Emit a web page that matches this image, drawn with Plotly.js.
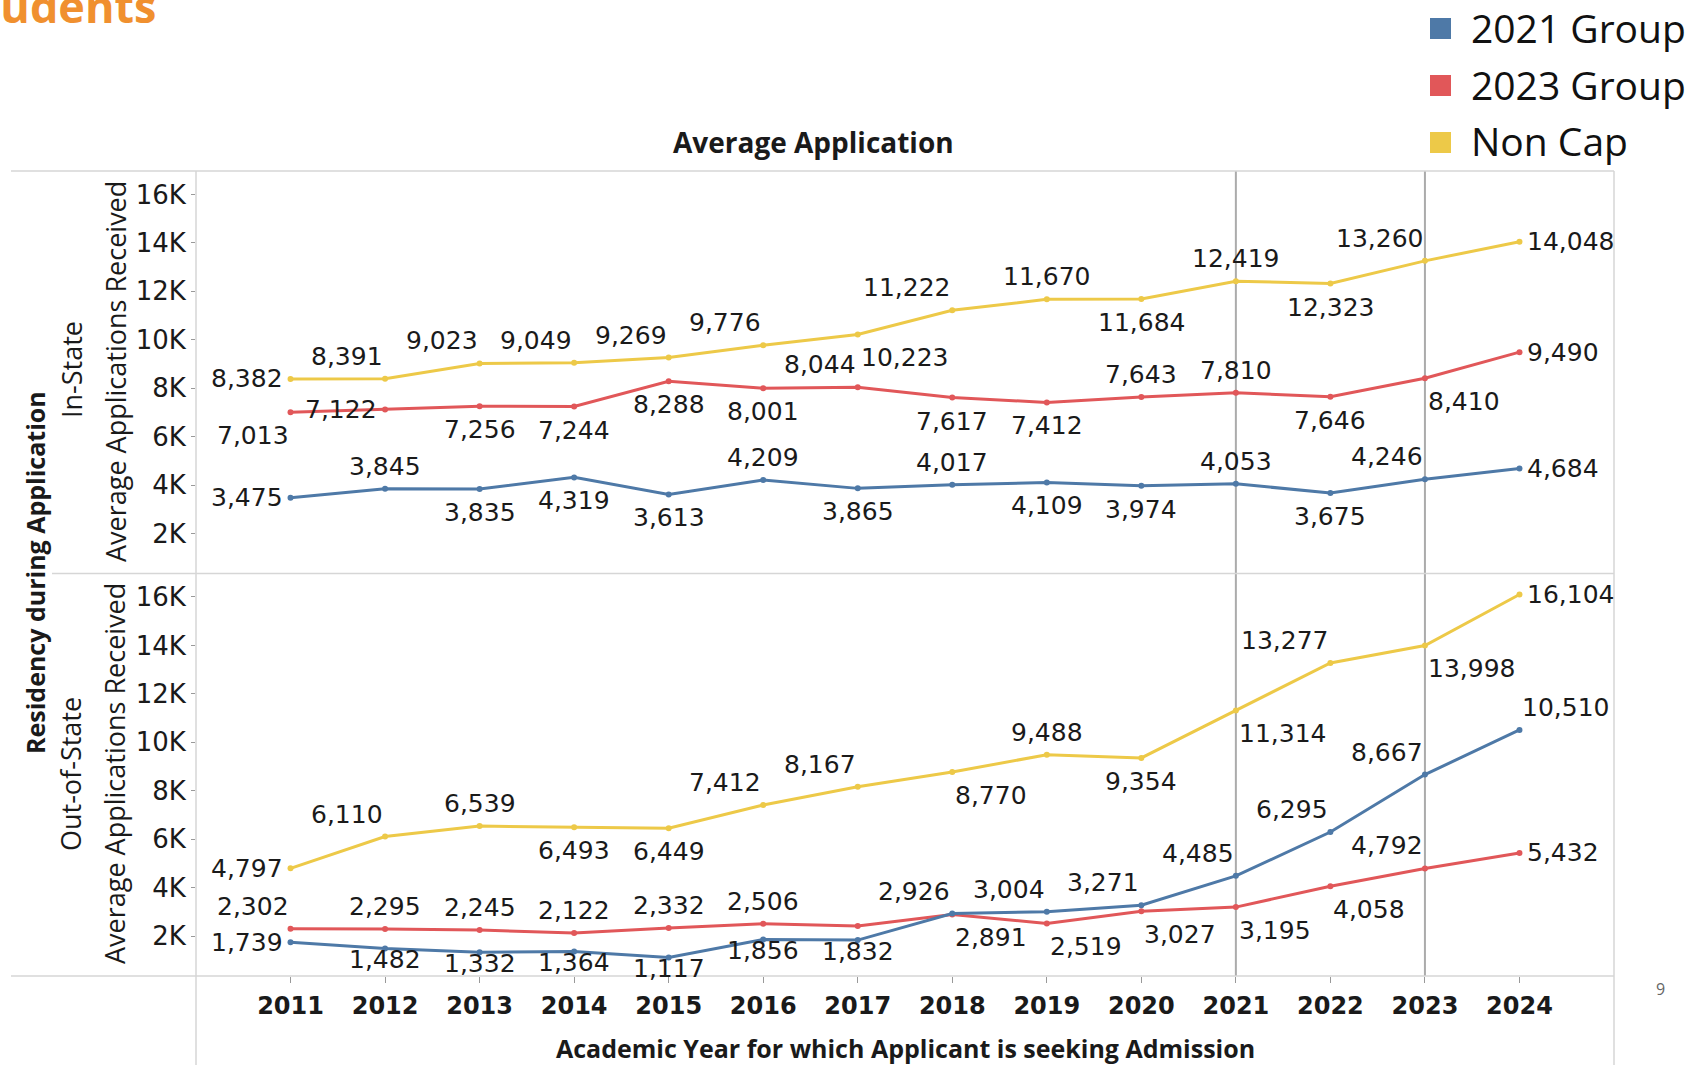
<!DOCTYPE html>
<html lang="en">
<head>
    <meta charset="UTF-8">
    <title>Average Application</title>
    <script src="https://cdn.plot.ly/plotly-3.0.0.min.js" charset="utf-8"></script>
    <style>
        body { margin: 0; background: #fff; }
        #plot { width: 1695px; height: 1065px; }
    </style>
</head>
<body>
<div id="plot"></div>

<script>
    // Data
    const years = [2011, 2012, 2013, 2014, 2015, 2016, 2017, 2018, 2019, 2020, 2021, 2022, 2023, 2024];

    const inState2021 = [3475, 3845, 3835, 4319, 3613, 4209, 3865, 4017, 4109, 3974, 4053, 3675, 4246, 4684];
    const inState2023 = [7013, 7122, 7256, 7244, 8288, 8001, 8044, 7617, 7412, 7643, 7810, 7646, 8410, 9490];
    const inStateNonCap = [8382, 8391, 9023, 9049, 9269, 9776, 10223, 11222, 11670, 11684, 12419, 12323, 13260, 14048];

    const outState2021 = [1739, 1482, 1332, 1364, 1117, 1856, 1832, 2926, 3004, 3271, 4485, 6295, 8667, 10510];
    const outState2023 = [2302, 2295, 2245, 2122, 2332, 2506, 2410, 2891, 2519, 3027, 3195, 4058, 4792, 5432];
    const outStateNonCap = [4797, 6110, 6539, 6493, 6449, 7412, 8167, 8770, 9488, 9354, 11314, 13277, 13998, 16104];

    // years whose label is hidden in the original (overlapping)
    const outState2023Hidden = [2017];

    const groupNames = ['2021 Group', '2023 Group', 'Non Cap'];
    const groupColors = ['#4E79A7', '#E15759', '#EDC948'];

    const yTickVals = [2000, 4000, 6000, 8000, 10000, 12000, 14000, 16000];
    const yTickText = ['2K', '4K', '6K', '8K', '10K', '12K', '14K', '16K'];

    // label placement per point (Tableau style)
    const posInNonCap = ['middle left', 'top left', 'top left', 'top left', 'top left', 'top left', 'bottom right',
        'top left', 'top center', 'bottom center', 'top center', 'bottom center', 'top left', 'middle right'];
    const posIn2023 = ['bottom left', 'middle left', 'bottom center', 'bottom center', 'bottom center', 'bottom center', 'top left',
        'bottom center', 'bottom center', 'top center', 'top center', 'bottom center', 'bottom right', 'middle right'];
    const posIn2021 = ['middle left', 'top center', 'bottom center', 'bottom center', 'bottom center', 'top center', 'bottom center',
        'top center', 'bottom center', 'bottom center', 'top center', 'bottom center', 'top left', 'middle right'];
    const posOutNonCap = ['middle left', 'top left', 'top center', 'bottom center', 'bottom center', 'top left', 'top left',
        'bottom right', 'top center', 'bottom center', 'bottom right', 'top left', 'bottom right', 'middle right'];
    const posOut2023 = ['top left', 'top center', 'top center', 'top center', 'top center', 'top center', 'top center',
        'bottom right', 'bottom right', 'bottom right', 'bottom right', 'bottom right', 'top left', 'middle right'];
    const posOut2021 = ['middle left', 'bottom center', 'bottom center', 'bottom center', 'bottom center', 'bottom center', 'bottom center',
        'top left', 'top left', 'top left', 'top left', 'top left', 'top left', 'top right'];

    // Geometry of the plot area in pixels
    const W = 1695, H = 1065;
    const L = 196, R = 1614, T = 171, B = 976;
    const px = x => (x - L) / (R - L);
    const py = y => (B - y) / (B - T);

    const fmt = v => v.toLocaleString('en-US');
    const labelFont = { family: 'DejaVu Sans', size: 25, color: '#1a1a1a' };

    function lineTrace(values, idx, xa, ya) {
        return {
            x: years, y: values, xaxis: xa, yaxis: ya,
            mode: 'lines+markers',
            line: { color: groupColors[idx], width: 3 },
            marker: { color: groupColors[idx], size: 6 },
            cliponaxis: false, showlegend: false, hoverinfo: 'skip'
        };
    }

    // value labels as annotations so the offset can be set per direction
    function valueLabels(values, positions, xa, ya, hidden, pinned) {
        const out = [];
        values.forEach((v, i) => {
            if (hidden && hidden.includes(years[i])) return;
            const [vert, horiz] = positions[i].split(' ');
            const a = {
                x: years[i], y: v, xref: xa, yref: ya,
                text: fmt(v), showarrow: false, font: labelFont,
                xanchor: horiz === 'left' ? 'right' : horiz === 'right' ? 'left' : 'center',
                yanchor: vert === 'top' ? 'bottom' : vert === 'bottom' ? 'top' : 'middle',
                xshift: 0, yshift: 0
            };
            if (vert === 'middle') a.xshift = horiz === 'left' ? -6 : 6;
            else if (horiz === 'right') a.xshift = 1;
            if (vert === 'top') a.yshift = 6;
            if (vert === 'bottom') {
                if (pinned) { a.yanchor = 'middle'; a.yshift = -11; }
                else a.yshift = -7;
            }
            out.push(a);
        });
        return out;
    }

    const traces = [
        lineTrace(inStateNonCap, 2, 'x', 'y'),
        lineTrace(inState2023, 1, 'x', 'y'),
        lineTrace(inState2021, 0, 'x', 'y'),
        lineTrace(outStateNonCap, 2, 'x2', 'y2'),
        lineTrace(outState2023, 1, 'x2', 'y2'),
        lineTrace(outState2021, 0, 'x2', 'y2')
    ];

    const yAxisBase = {
        range: [350, 16970],
        tickvals: yTickVals,
        ticktext: yTickText,
        ticks: 'outside',
        ticklen: 4,
        tickcolor: '#999',
        tickfont: { family: 'DejaVu Sans', size: 26, color: '#1a1a1a' },
        showgrid: false,
        zeroline: false,
        showline: false,
        fixedrange: true
    };

    const frameColor = '#d6d6d6';
    const shapes = [
        // frame lines
        { type: 'line', xref: 'paper', yref: 'paper', x0: px(11), x1: px(R), y0: py(T), y1: py(T), line: { color: frameColor, width: 1.5 } },
        { type: 'line', xref: 'paper', yref: 'paper', x0: px(52), x1: px(R), y0: 0.5, y1: 0.5, line: { color: frameColor, width: 1.5 } },
        { type: 'line', xref: 'paper', yref: 'paper', x0: px(11), x1: px(R), y0: 0, y1: 0, line: { color: frameColor, width: 1.5 } },
        { type: 'line', xref: 'paper', yref: 'paper', x0: 0, x1: 0, y0: py(T), y1: py(H), line: { color: frameColor, width: 1.5 } },
        { type: 'line', xref: 'paper', yref: 'paper', x0: 1, x1: 1, y0: py(T), y1: py(H), line: { color: frameColor, width: 1.5 } },
        // reference lines
        { type: 'line', xref: 'x2', yref: 'paper', x0: 2021, x1: 2021, y0: 0, y1: 1, layer: 'below', line: { color: '#ababab', width: 2 } },
        { type: 'line', xref: 'x2', yref: 'paper', x0: 2023, x1: 2023, y0: 0, y1: 1, layer: 'below', line: { color: '#ababab', width: 2 } }
    ];

    const annotations = [
        { text: 'Average Application', x: px(813), y: py(142), font: { family: 'Open Sans', size: 28, color: '#1a1a1a', weight: 'bold' } },
        { text: 'Academic Year for which Applicant is seeking Admission', x: px(905), y: py(1048), font: { family: 'Open Sans', size: 25, color: '#1a1a1a', weight: 'bold' } },
        { text: 'Residency during Application', x: px(35), y: py(573), textangle: -90, font: { family: 'Open Sans', size: 25, color: '#1a1a1a', weight: 'bold' } },
        { text: 'In-State', x: px(71), y: py(370), textangle: -90, font: { family: 'Open Sans', size: 27, color: '#1a1a1a' } },
        { text: 'Average Applications Received', x: px(115), y: py(372), textangle: -90, font: { family: 'Open Sans', size: 27, color: '#1a1a1a' } },
        { text: 'Out-of-State', x: px(71), y: py(774), textangle: -90, font: { family: 'Open Sans', size: 27, color: '#1a1a1a' } },
        { text: 'Average Applications Received', x: px(115), y: py(774), textangle: -90, font: { family: 'Open Sans', size: 27, color: '#1a1a1a' } },
        { text: 'Students', x: px(158), y: py(38), xanchor: 'right', yanchor: 'bottom', font: { family: 'Open Sans', size: 45, color: '#F0902F', weight: 'bold' } },
        { text: '9', x: px(1660), y: py(989), font: { family: 'Open Sans', size: 16, color: '#666' } }
    ].map(a => Object.assign({ xref: 'paper', yref: 'paper', showarrow: false, xanchor: 'center', yanchor: 'middle' }, a));

    annotations.push(
        ...valueLabels(inStateNonCap, posInNonCap, 'x', 'y'),
        ...valueLabels(inState2023, posIn2023, 'x', 'y'),
        ...valueLabels(inState2021, posIn2021, 'x', 'y'),
        ...valueLabels(outStateNonCap, posOutNonCap, 'x2', 'y2'),
        ...valueLabels(outState2023, posOut2023, 'x2', 'y2', outState2023Hidden),
        ...valueLabels(outState2021, posOut2021, 'x2', 'y2', null, true)
    );

    // legend drawn by hand (square swatches)
    const legendRows = [29, 86, 143];
    groupNames.forEach((name, i) => {
        const cy = legendRows[i];
        shapes.push({
            type: 'rect', xref: 'paper', yref: 'paper',
            x0: px(1430), x1: px(1451), y0: py(cy - 11), y1: py(cy + 10),
            fillcolor: groupColors[i], line: { width: 0 }
        });
        annotations.push({
            text: name, xref: 'paper', yref: 'paper', x: px(1469), y: py(cy - 2),
            xanchor: 'left', yanchor: 'middle', showarrow: false,
            font: { family: 'Open Sans', size: 39, color: '#111' }
        });
    });

    const layout = {
        width: W,
        height: H,
        margin: { l: L, r: W - R, t: T, b: H - B, pad: 0 },
        paper_bgcolor: '#fff',
        plot_bgcolor: '#fff',
        showlegend: false,
        xaxis: {
            domain: [0, 1], anchor: 'y', range: [2010, 2025],
            showticklabels: false, ticks: '', showgrid: false, zeroline: false, showline: false, fixedrange: true
        },
        xaxis2: {
            domain: [0, 1], anchor: 'y2', range: [2010, 2025],
            tickvals: years, ticktext: years.map(String),
            ticks: 'outside', ticklen: 6, tickcolor: '#999',
            ticklabelstandoff: 2,
            tickfont: { family: 'DejaVu Sans', size: 24, color: '#1a1a1a', weight: 'bold' },
            showgrid: false, zeroline: false, showline: false, fixedrange: true
        },
        yaxis: Object.assign({ domain: [0.5, 1], anchor: 'x' }, yAxisBase),
        yaxis2: Object.assign({ domain: [0, 0.5], anchor: 'x2' }, yAxisBase),
        shapes: shapes,
        annotations: annotations
    };

    Plotly.newPlot('plot', traces, layout, { displayModeBar: false, staticPlot: true });
</script>
</body>
</html>
